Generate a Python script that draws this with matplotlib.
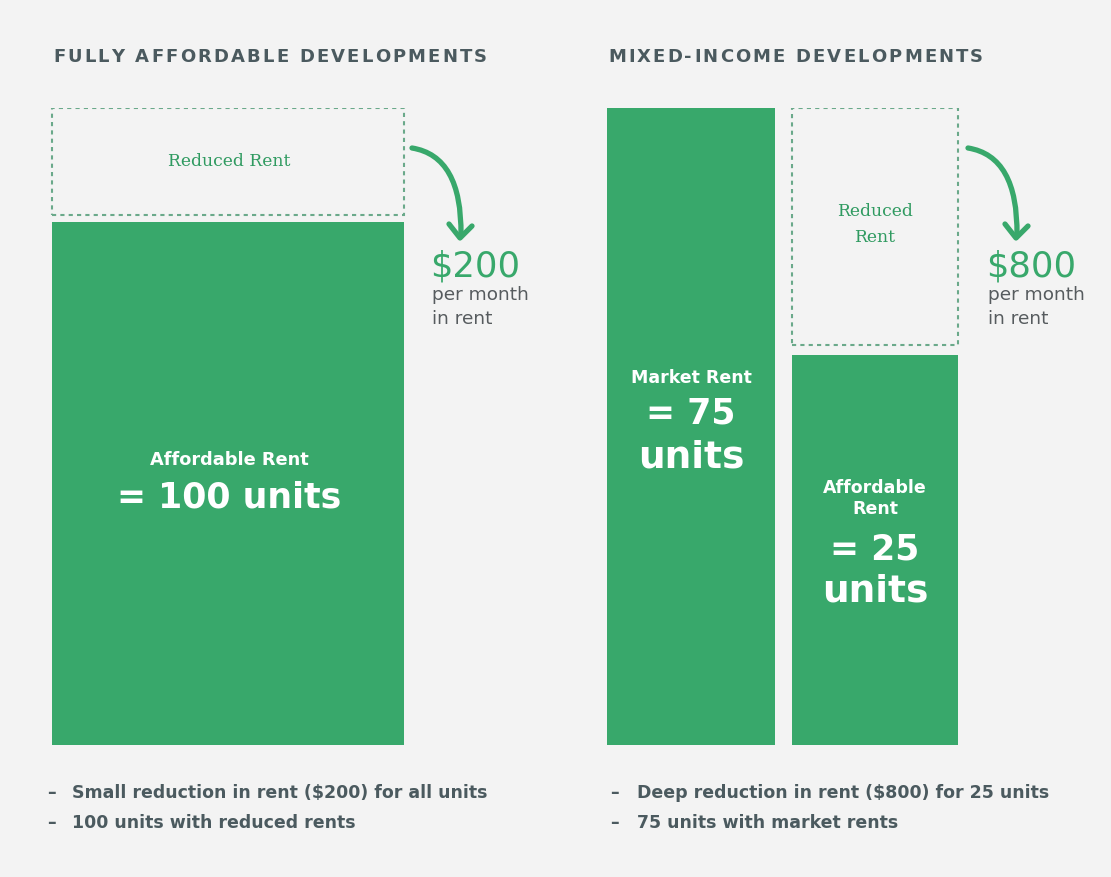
import matplotlib
matplotlib.use("Agg")
import matplotlib.pyplot as plt
from matplotlib.path import Path
from matplotlib.patches import PathPatch

# ---------------- data ----------------
panel_titles = ["FULLY AFFORDABLE DEVELOPMENTS", "MIXED-INCOME DEVELOPMENTS"]
# relative rent level (market rent = 100)
left_affordable = 82.1
right_market = 100.0
right_affordable = 61.2
top_level = 100.0
reductions = ["$200", "$800"]
left_units = 100
market_units = 75
affordable_units = 25
bullets_left = ["Small reduction in rent ($200) for all units", "100 units with reduced rents"]
bullets_right = ["Deep reduction in rent ($800) for 25 units", "75 units with market rents"]

# ---------------- style ----------------
BG = "#f3f3f3"
GREEN = "#38a86b"
DGREEN = "#2f9a60"
DASH = "#6aa98a"
SLATE = "#4b5a5f"
GRAY = "#565b5e"
W, H = 1111, 877

fig = plt.figure(figsize=(W / 100, H / 100), dpi=100, facecolor=BG)

# bar axes: x in pixels, y in rent level; bottom at 745px, top at 108px
bx = fig.add_axes([0, (H - 745) / H, 1, (745 - 108) / H])
bx.set_xlim(0, W)
bx.set_ylim(0, 100)
bx.axis("off")
bx.patch.set_alpha(0)

dash_kw = dict(fill=False, edgecolor=DASH, linewidth=1.5, linestyle=(0, (2, 2)))
# left panel
bx.bar(228, left_affordable, width=352, color=GREEN, linewidth=0)
gap_l = 1.1
bx.bar(228, top_level - left_affordable - gap_l, bottom=left_affordable + gap_l, width=352, **dash_kw)
# right panel
bx.bar(691, right_market, width=168, color=GREEN, linewidth=0)
bx.bar(875, right_affordable, width=166, color=GREEN, linewidth=0)
gap_r = 1.6
bx.bar(875, top_level - right_affordable - gap_r, bottom=right_affordable + gap_r, width=166, **dash_kw)

# overlay axes in pixel coordinates for annotations
ax = fig.add_axes([0, 0, 1, 1])
ax.set_xlim(0, W)
ax.set_ylim(H, 0)
ax.axis("off")
ax.patch.set_alpha(0)

renderer = fig.canvas.get_renderer()


def spaced_text(x0, x1, y, s, **kw):
    """Draw s letter-spaced so that it spans x0..x1 (pixels)."""
    texts, widths = [], []
    for ch in s:
        t = ax.text(0, y, ch if ch != " " else "\u00a0", **kw)
        widths.append(t.get_window_extent(renderer).width)
        texts.append(t)
    sp = (x1 - x0 - sum(widths)) / (len(s) - 1)
    cur = x0
    for t, w in zip(texts, widths):
        t.set_x(cur)
        cur += w + sp


title_kw = dict(fontfamily="DejaVu Sans", fontweight="bold", fontsize=13.0, color=SLATE,
                va="center", ha="left")
spaced_text(53, 487, 57, panel_titles[0], **title_kw)
spaced_text(608, 983, 57, panel_titles[1], **title_kw)

serif_kw = dict(fontfamily="DejaVu Serif", fontsize=12.3, color=DGREEN, ha="center", va="center")
ax.text(229, 161, "Reduced Rent", **serif_kw)
ax.text(875, 212, "Reduced", **serif_kw)
ax.text(875, 237, "Rent", **serif_kw)

# curved arrows
for (x0, y0) in [(412, 148), (968, 148)]:
    verts = [(x0, y0), (x0 + 50, y0 + 8), (x0 + 49, y0 + 87)]
    p = Path(verts, [Path.MOVETO, Path.CURVE3, Path.CURVE3])
    ax.add_patch(PathPatch(p, fill=False, edgecolor=GREEN, linewidth=3.8, capstyle="round"))
    tx, ty = x0 + 48, y0 + 90
    ax.plot([tx - 11, tx, tx + 12], [ty - 14, ty, ty - 12], color=GREEN, linewidth=3.8,
            solid_capstyle="round", solid_joinstyle="round")

for x, amt in [(431, reductions[0]), (987, reductions[1])]:
    ax.text(x - 1, 266, amt, fontfamily="DejaVu Sans", fontsize=25.5, color=GREEN,
            ha="left", va="center")
    ax.text(x + 1, 295, "per month", fontfamily="DejaVu Sans", fontsize=13.3, color=GRAY,
            ha="left", va="center")
    ax.text(x + 1, 319, "in rent", fontfamily="DejaVu Sans", fontsize=13.3, color=GRAY,
            ha="left", va="center")

lab_kw = dict(fontfamily="DejaVu Sans", fontweight="bold", color="white", ha="center", va="center")
ax.text(229, 460, "Affordable Rent", fontsize=12.8, **lab_kw)
ax.text(229, 497, f"= {left_units} units", fontsize=25, **lab_kw)
ax.text(691, 378, "Market Rent", fontsize=12.5, **lab_kw)
ax.text(691, 413, f"= {market_units}", fontsize=25, **lab_kw)
ax.text(691, 457, "units", fontsize=27, **lab_kw)
ax.text(875, 488, "Affordable", fontsize=12.5, **lab_kw)
ax.text(875, 509, "Rent", fontsize=12.5, **lab_kw)
ax.text(875, 550, f"= {affordable_units}", fontsize=25, **lab_kw)
ax.text(875, 592, "units", fontsize=27, **lab_kw)

bul_kw = dict(fontfamily="DejaVu Sans", fontweight="bold", fontsize=12.5, color=SLATE,
              ha="left", va="center")
for i, t in enumerate(bullets_left):
    y = 793 + 30 * i
    ax.text(47, y, "–", **bul_kw)
    ax.text(72, y, t, **bul_kw)
for i, t in enumerate(bullets_right):
    y = 793 + 30 * i
    ax.text(610, y, "–", **bul_kw)
    ax.text(637, y, t, **bul_kw)

fig.savefig("out.png", dpi=100, facecolor=BG)
